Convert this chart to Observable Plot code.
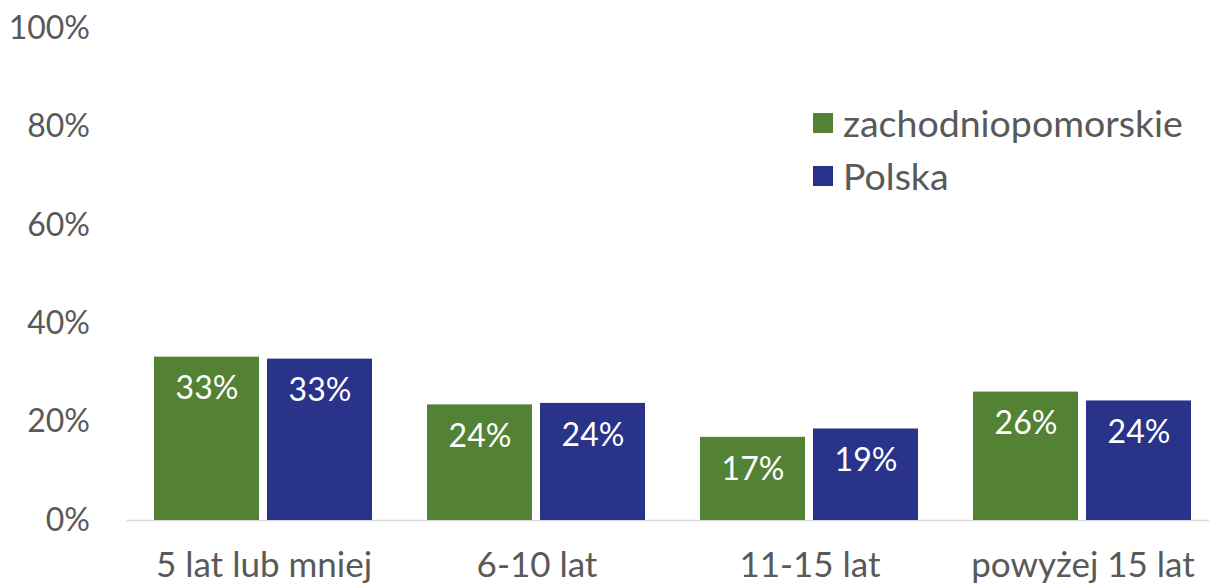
<!DOCTYPE html>
<html>
<head>
<meta charset="utf-8">
<script src="https://cdn.jsdelivr.net/npm/d3@7"></script>
<script src="https://cdn.jsdelivr.net/npm/@observablehq/plot@0.6"></script>
<style>
  html, body { margin: 0; padding: 0; background: #fff; overflow: hidden; }
  #wrap { position: relative; width: 1209px; height: 583px; font-family: Lato, sans-serif; }
  #legend { position: absolute; left: 813px; top: 100px; color: #595959; font-size: 37.5px; font-family: Lato, sans-serif; }
  .row { display: flex; align-items: center; height: 46px; line-height: 46px; margin-bottom: 7px; }
  .sw { width: 20px; height: 20px; margin-right: 10px; }
  svg { overflow: visible; }
</style>
</head>
<body>
<div id="wrap"></div>
<script>
const categories = ["5 lat lub mniej", "6-10 lat", "11-15 lat", "powyżej 15 lat"];
const series = ["zachodniopomorskie", "Polska"];
const zachodniopomorskie = [33.2, 23.5, 16.9, 26.1];
const polska = [32.8, 23.8, 18.6, 24.3];
const colors = ["#548235", "#283389"];
const yTicks = [0, 20, 40, 60, 80, 100];

const data = [];
categories.forEach((c, i) => {
  data.push({cat: c, series: series[0], value: zachodniopomorskie[i]});
  data.push({cat: c, series: series[1], value: polska[i]});
});

const chart = Plot.plot({
  width: 1209,
  height: 583,
  marginLeft: 126,
  marginRight: -12,
  marginTop: 28,
  marginBottom: 63,
  style: {fontFamily: "Lato, sans-serif", color: "#595959", background: "white"},
  fx: {domain: categories, paddingInner: 0.196, paddingOuter: 0.098, label: null, tickSize: 0, tickPadding: 0},
  x: {domain: series, paddingInner: 0.07, paddingOuter: 0, axis: null},
  y: {domain: [0, 100], ticks: yTicks, tickFormat: d => d + "%", tickSize: 0, tickPadding: 0, label: null},
  color: {domain: series, range: colors},
  marks: [
    Plot.ruleY([0], {stroke: "#d9d9d9", strokeWidth: 1.5, insetLeft: -27.5, insetRight: -27.5}),
    Plot.barY(data, {fx: "cat", x: "series", y: "value", fill: "series"}),
    Plot.text(data, {fx: "cat", x: "series", y: "value", text: d => Math.round(d.value) + "%", fill: "white", dy: 32, fontSize: 32, lineAnchor: "middle"})
  ]
});

const wrap = document.getElementById("wrap");
wrap.appendChild(chart);

const svgEl = chart.tagName.toLowerCase() === "svg" ? chart : chart.querySelector("svg");
const svgBox = svgEl.getBoundingClientRect();

function adjust(selector, size, target) {
  const texts = Array.from(svgEl.querySelectorAll(selector));
  if (!texts.length) return;
  texts.forEach(t => { t.setAttribute("font-size", size); t.style.fontSize = size + "px"; });
  const boxes = texts.map(t => t.getBoundingClientRect());
  let sx = 0, sy = 0;
  if (target.right != null) sx = target.right - Math.max(...boxes.map(b => b.right - svgBox.left));
  if (target.centerY != null) {
    const b = boxes[0];
    sy = target.centerY - ((b.top + b.bottom) / 2 - svgBox.top);
  }
  const parents = Array.from(new Set(texts.map(t => t.parentNode)));
  parents.forEach(g => {
    const prev = g.getAttribute("transform") || "";
    g.setAttribute("transform", `translate(${sx},${sy}) ${prev}`);
  });
}
adjust("[aria-label='y-axis tick label'] text", 32, {right: 90});
adjust("[aria-label='fx-axis tick label'] text", 35, {centerY: 563});

const legend = document.createElement("div");
legend.id = "legend";
series.forEach((s, i) => {
  const row = document.createElement("div");
  row.className = "row";
  const sw = document.createElement("div");
  sw.className = "sw";
  sw.style.background = colors[i];
  const label = document.createElement("span");
  label.textContent = s;
  row.appendChild(sw);
  row.appendChild(label);
  legend.appendChild(row);
});
wrap.appendChild(legend);
</script>
</body>
</html>
